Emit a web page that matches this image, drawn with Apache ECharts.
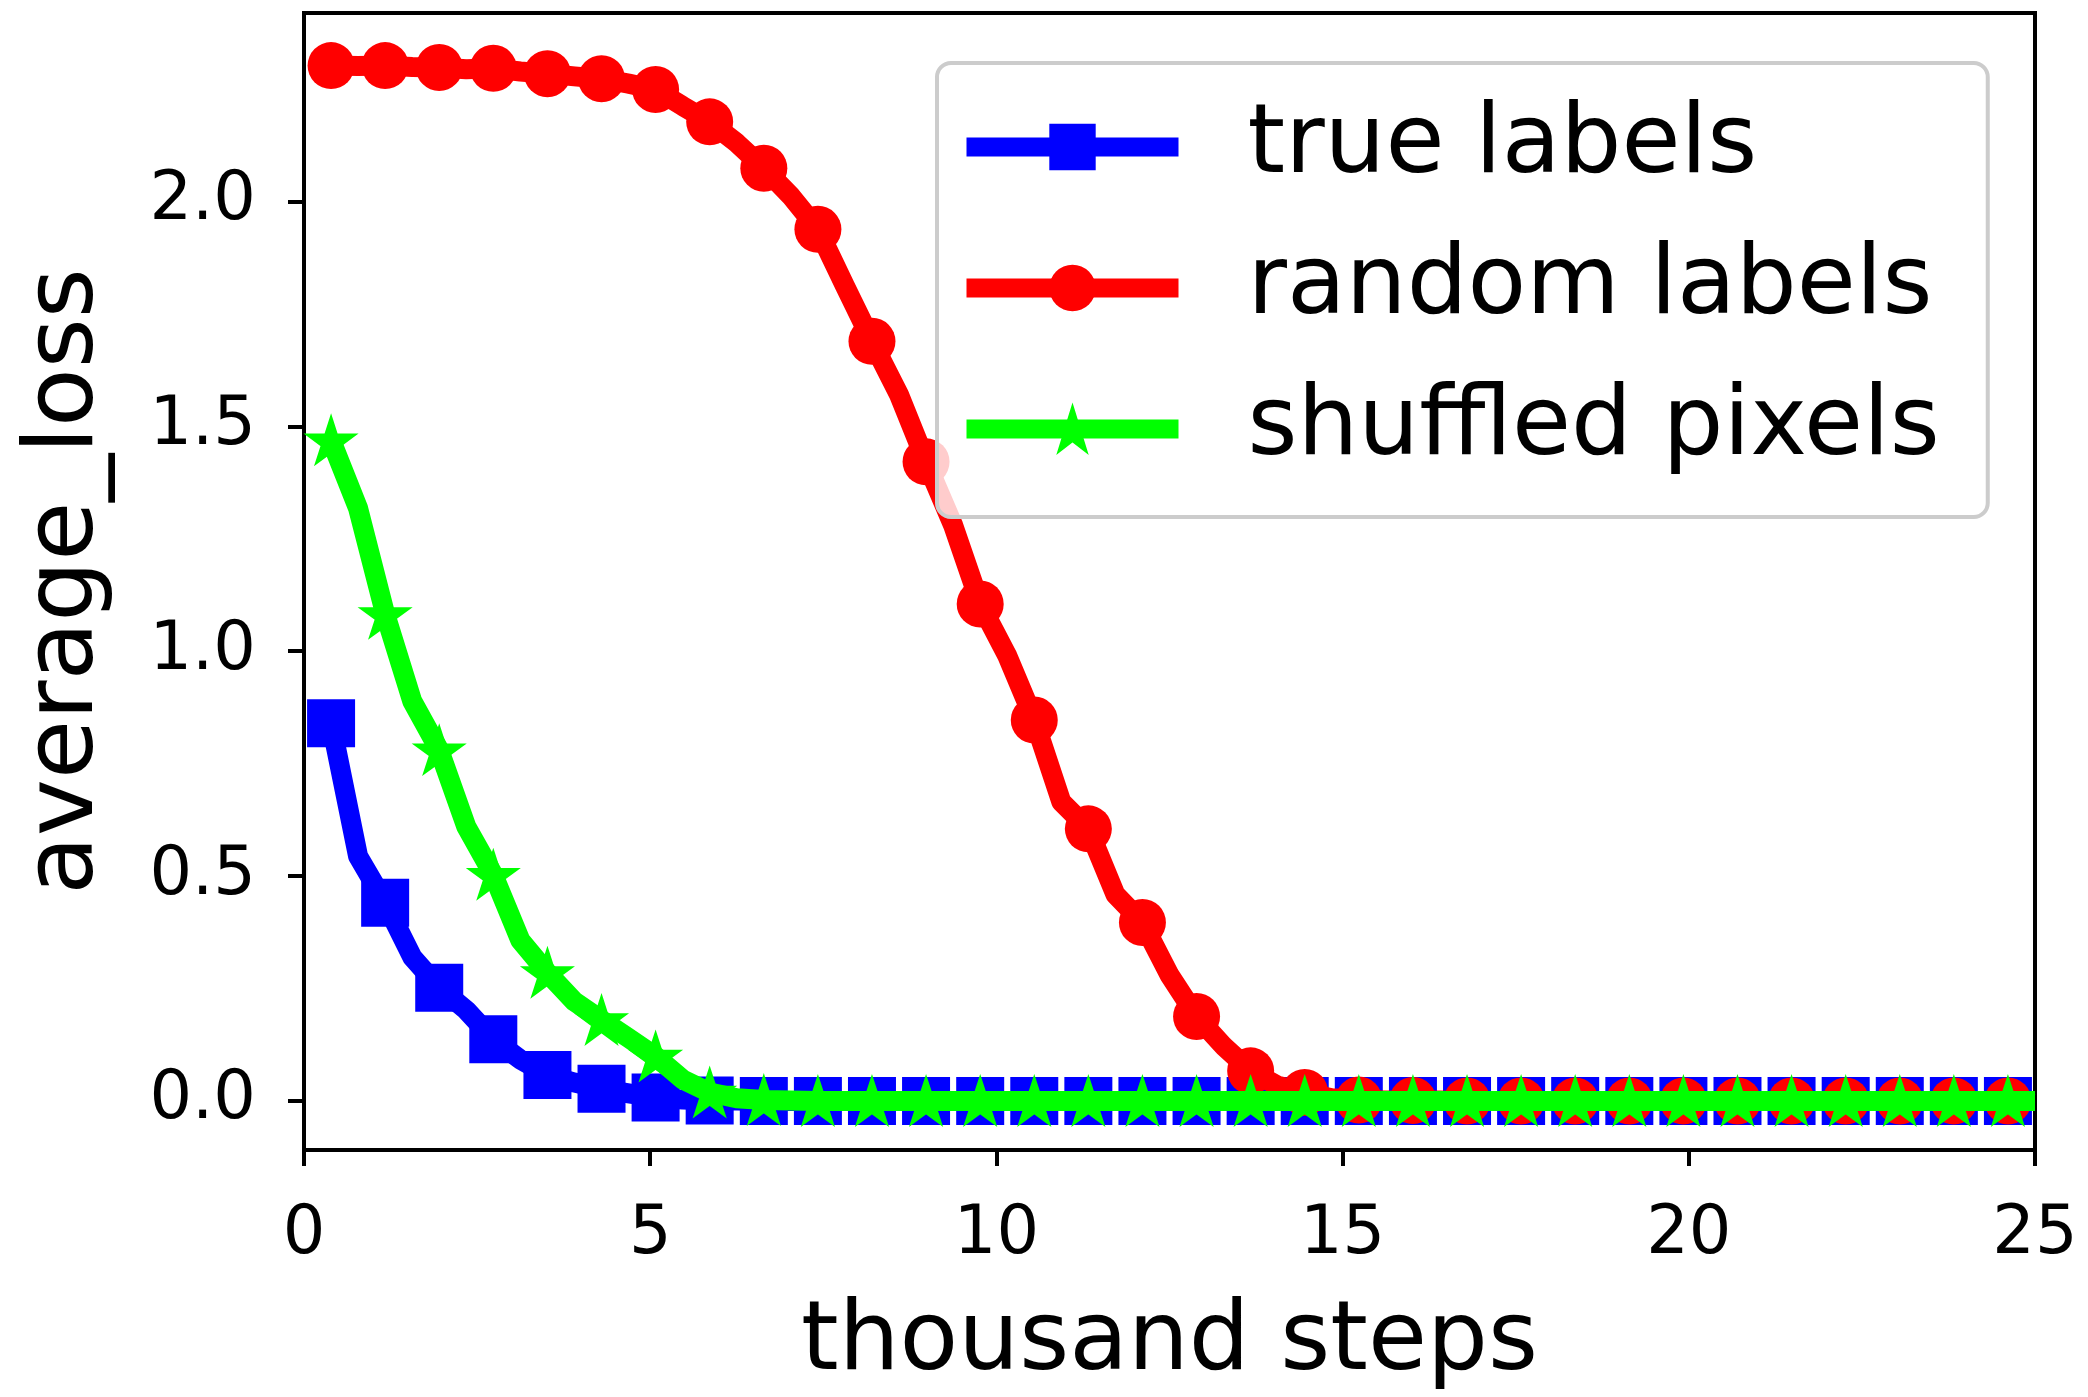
<!DOCTYPE html>
<html>
<head>
<meta charset="utf-8">
<script src="https://cdn.jsdelivr.net/npm/echarts@6/dist/echarts.min.js"></script>
<style>
  html, body { margin: 0; padding: 0; background: #ffffff; }
  #chart { width: 2088px; height: 1397px; }
</style>
</head>
<body>
<div id="chart"></div>
<script>
// ---- data (thousand steps) ----
const steps = [0.391, 0.781, 1.172, 1.563, 1.953, 2.344, 2.734, 3.125, 3.516, 3.906,
  4.297, 4.688, 5.078, 5.469, 5.859, 6.25, 6.641, 7.031, 7.422, 7.813,
  8.203, 8.594, 8.984, 9.375, 9.766, 10.156, 10.547, 10.938, 11.328, 11.719,
  12.109, 12.5, 12.891, 13.281, 13.672, 14.063, 14.453, 14.844, 15.234, 15.625,
  16.016, 16.406, 16.797, 17.188, 17.578, 17.969, 18.359, 18.75, 19.141, 19.531,
  19.922, 20.313, 20.703, 21.094, 21.484, 21.875, 22.266, 22.656, 23.047, 23.438,
  23.828, 24.219, 24.609, 25.0];

const trueLabels = [0.840, 0.544, 0.441, 0.320, 0.252, 0.202, 0.137, 0.092, 0.058, 0.041,
  0.027, 0.017, 0.008, 0.003, 0.001, 0.001, 0.0, 0.0, 0.0, 0.0,
  0.0, 0.0, 0.0, 0.0, 0.0, 0.0, 0.0, 0.0, 0.0, 0.0,
  0.0, 0.0, 0.0, 0.0, 0.0, 0.0, 0.0, 0.0, 0.0, 0.0,
  0.0, 0.0, 0.0, 0.0, 0.0, 0.0, 0.0, 0.0, 0.0, 0.0,
  0.0, 0.0, 0.0, 0.0, 0.0, 0.0, 0.0, 0.0, 0.0, 0.0,
  0.0, 0.0, 0.0, 0.0];

const randomLabels = [2.302, 2.301, 2.302, 2.299, 2.298, 2.294, 2.296, 2.289, 2.284, 2.278,
  2.273, 2.262, 2.249, 2.212, 2.177, 2.130, 2.074, 2.012, 1.938, 1.812,
  1.689, 1.570, 1.421, 1.280, 1.105, 0.990, 0.847, 0.665, 0.605, 0.459,
  0.397, 0.280, 0.188, 0.122, 0.067, 0.034, 0.019, 0.006, 0.002, 0.001,
  0.001, 0.001, 0.0, 0.0, 0.0, 0.0, 0.0, 0.0, 0.0, 0.0,
  0.0, 0.0, 0.0, 0.0, 0.0, 0.0, 0.0, 0.0, 0.0, 0.0,
  0.0, 0.0, 0.0, 0.0];

const shuffledPixels = [1.469, 1.318, 1.083, 0.889, 0.780, 0.610, 0.503, 0.357, 0.285, 0.221,
  0.180, 0.140, 0.099, 0.048, 0.019, 0.006, 0.002, 0.001, 0.0, 0.0,
  0.0, 0.0, 0.0, 0.0, 0.0, 0.0, 0.0, 0.0, 0.0, 0.0,
  0.0, 0.0, 0.0, 0.0, 0.0, 0.0, 0.0, 0.0, 0.0, 0.0,
  0.0, 0.0, 0.0, 0.0, 0.0, 0.0, 0.0, 0.0, 0.0, 0.0,
  0.0, 0.0, 0.0, 0.0, 0.0, 0.0, 0.0, 0.0, 0.0, 0.0,
  0.0, 0.0, 0.0, 0.0];

const seriesNames = ['true labels', 'random labels', 'shuffled pixels'];
const xTicks = [0, 5, 10, 15, 20, 25];
const yTicks = [0.0, 0.5, 1.0, 1.5, 2.0];
const xTitle = 'thousand steps';
const yTitle = 'average_loss';

// ---- styling ----
const FONT = 'DejaVu Sans';
const STAR = 'path://M0,-100 L22.45,-30.9 L95.1,-30.9 L36.3,11.8 L58.8,80.9 L0,38.2 L-58.8,80.9 L-36.3,11.8 L-95.1,-30.9 L-22.45,-30.9 Z';

function build(values) {
  // marker on every other point (markevery=2)
  return steps.map((x, k) => k % 2 === 0 ? [x, values[k]] : { value: [x, values[k]], symbol: 'none' });
}

function lineSeries(name, values, color, symbol, size, z, edge) {
  return {
    name: name,
    type: 'line',
    data: build(values),
    z: z,
    symbol: symbol,
    symbolSize: size,
    showAllSymbol: true,
    clip: true,
    itemStyle: { color: color, borderColor: color, borderWidth: edge },
    lineStyle: { color: color, width: 20, join: 'round', cap: 'butt' },
    emphasis: { disabled: true },
    animation: false
  };
}

const chart = echarts.init(document.getElementById('chart'), null, { renderer: 'canvas' });

chart.setOption({
  backgroundColor: '#ffffff',
  animation: false,
  textStyle: { fontFamily: FONT },
  grid: {
    left: 304, top: 13, width: 1731, height: 1148,
    show: true, borderColor: '#000000', borderWidth: 4, backgroundColor: 'transparent'
  },
  xAxis: {
    type: 'value',
    min: 0, max: 25, interval: 5,
    name: xTitle,
    nameLocation: 'middle',
    nameGap: 146,
    nameTextStyle: { fontFamily: FONT, fontSize: 96, color: '#000000' },
    axisLine: { show: true, onZero: false, lineStyle: { color: '#000000', width: 4 } },
    axisTick: { show: true, inside: false, length: 16, lineStyle: { color: '#000000', width: 4 }, customValues: xTicks },
    axisLabel: { show: true, margin: 52, fontFamily: FONT, fontSize: 67, color: '#000000', customValues: xTicks,
      formatter: v => String(v) },
    splitLine: { show: false }
  },
  yAxis: {
    type: 'value',
    min: -0.109, max: 2.419,
    name: yTitle,
    nameLocation: 'middle',
    nameGap: 189,
    nameTextStyle: { fontFamily: FONT, fontSize: 96, color: '#000000' },
    axisLine: { show: true, onZero: false, lineStyle: { color: '#000000', width: 4 } },
    axisTick: { show: true, inside: false, length: 16, lineStyle: { color: '#000000', width: 4 }, customValues: yTicks },
    axisLabel: { show: true, margin: 48, fontFamily: FONT, fontSize: 67, color: '#000000', customValues: yTicks,
      formatter: v => Number(v).toFixed(1) },
    splitLine: { show: false }
  },
  legend: {
    show: true,
    orient: 'vertical',
    left: 937, top: 63,
    padding: [36, 48, 40, 20],
    itemWidth: 212,
    itemHeight: 58,
    itemGap: 45,
    backgroundColor: 'rgba(255,255,255,0.8)',
    borderColor: '#cccccc',
    borderWidth: 4,
    borderRadius: 14,
    lineStyle: { width: 19 },
    textStyle: { fontFamily: FONT, fontSize: 96, color: '#000000', padding: [0, 0, 0, 64] },
    selectedMode: false,
    data: seriesNames
  },
  series: [
    lineSeries(seriesNames[0], trueLabels, '#0000ff', 'rect', 48, 2, 0),
    lineSeries(seriesNames[1], randomLabels, '#ff0000', 'circle', 47, 3, 0),
    lineSeries(seriesNames[2], shuffledPixels, '#00ff00', STAR, [46, 44], 4, 3)
  ]
});
</script>
</body>
</html>
